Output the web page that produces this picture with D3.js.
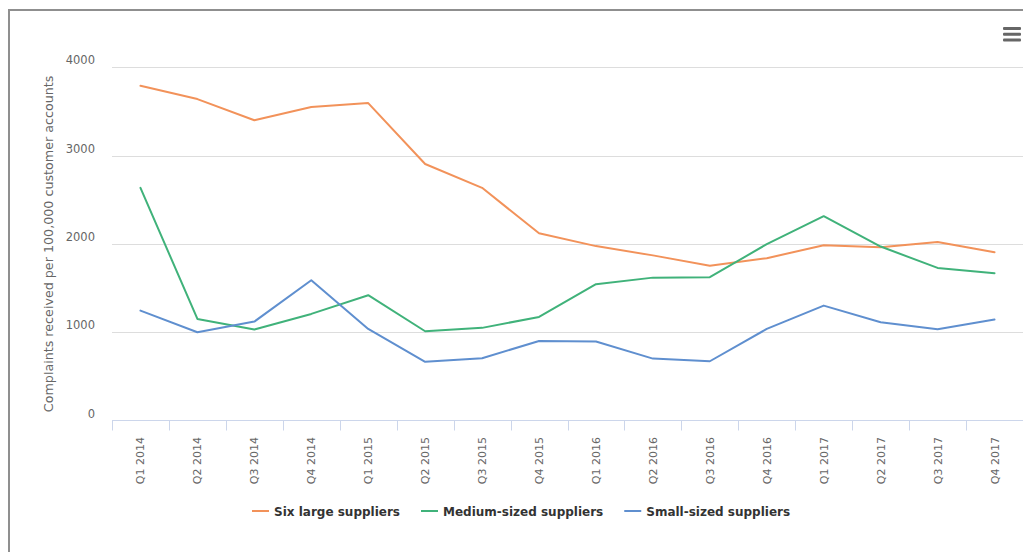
<!DOCTYPE html>
<html>
<head>
<meta charset="utf-8">
<script src="https://cdn.jsdelivr.net/npm/d3@7"></script>
<style>
  html, body { margin: 0; padding: 0; background: #fff; }
  svg { display: block; font-family: "DejaVu Sans", sans-serif; }
</style>
</head>
<body>
<svg id="chart" width="1023" height="552"></svg>
<script>
// Quarterly complaints per 100,000 customer accounts, by supplier size
const quarters = ["Q1 2014", "Q2 2014", "Q3 2014", "Q4 2014",
                  "Q1 2015", "Q2 2015", "Q3 2015", "Q4 2015",
                  "Q1 2016", "Q2 2016", "Q3 2016", "Q4 2016",
                  "Q1 2017", "Q2 2017", "Q3 2017", "Q4 2017"];
const sixLarge    = [3790, 3640, 3400, 3550, 3595, 2905, 2635, 2120, 1975, 1870, 1752, 1838, 1985, 1963, 2022, 1905];
const mediumSized = [2635, 1150, 1030, 1207, 1419, 1011, 1049, 1173, 1544, 1618, 1623, 1997, 2314, 1970, 1728, 1668];
const smallSized  = [1245, 1000, 1120, 1589, 1037, 664, 705, 901, 894, 701, 671, 1037, 1301, 1113, 1034, 1143];
const yTicks = [0, 1000, 2000, 3000, 4000];
const seriesNames = ["Six large suppliers", "Medium-sized suppliers", "Small-sized suppliers"];
const yTitle = "Complaints received per 100,000 customer accounts";

const series = [
  { name: seriesNames[0], values: sixLarge,    color: "#f2925a" },
  { name: seriesNames[1], values: mediumSized, color: "#40b27a" },
  { name: seriesNames[2], values: smallSized,  color: "#5f8fcf" }
];

const svg = d3.select("#chart");
const plot = { left: 112, right: 1023, top: 67.3, bottom: 420.5 };

const x = d3.scaleBand().domain(quarters).range([plot.left, plot.right]).padding(0);
const y = d3.scaleLinear().domain([0, 4000]).range([plot.bottom, plot.top]);

// outer frame
svg.append("path")
  .attr("d", `M9,552V10H1023`)
  .attr("fill", "none")
  .attr("stroke", "#8f8f8f")
  .attr("stroke-width", 2);

// horizontal grid lines
svg.append("g")
  .selectAll("line")
  .data(yTicks.filter(d => d > 0))
  .join("line")
  .attr("x1", plot.left).attr("x2", plot.right)
  .attr("y1", d => Math.round(y(d)) + 0.5).attr("y2", d => Math.round(y(d)) + 0.5)
  .attr("stroke", "#dddddd").attr("stroke-width", 1);

// y tick labels
svg.append("g")
  .selectAll("text")
  .data(yTicks)
  .join("text")
  .attr("x", 95)
  .attr("y", d => y(d) - 3)
  .attr("text-anchor", "end")
  .attr("font-size", 11.5)
  .attr("fill", "#666")
  .text(d => d);

// y axis title
svg.append("text")
  .attr("transform", `translate(52.5,${(plot.top + plot.bottom) / 2 + 0}) rotate(-90)`)
  .attr("text-anchor", "middle")
  .attr("font-size", 12.7)
  .attr("fill", "#666")
  .text(yTitle);

// x axis line and tick marks at category boundaries
const xAxis = svg.append("g");
xAxis.append("line")
  .attr("x1", plot.left).attr("x2", plot.right)
  .attr("y1", plot.bottom).attr("y2", plot.bottom)
  .attr("stroke", "#ccd6eb").attr("stroke-width", 1);
xAxis.selectAll("line.tick")
  .data(quarters)
  .join("line")
  .attr("class", "tick")
  .attr("x1", d => Math.round(x(d)) + 0.5).attr("x2", d => Math.round(x(d)) + 0.5)
  .attr("y1", plot.bottom).attr("y2", plot.bottom + 10)
  .attr("stroke", "#ccd6eb").attr("stroke-width", 1);
xAxis.selectAll("text")
  .data(quarters)
  .join("text")
  .attr("transform", d => `translate(${x(d) + x.bandwidth() / 2 + 4},437) rotate(-90)`)
  .attr("text-anchor", "end")
  .attr("font-size", 11)
  .attr("fill", "#666")
  .text(d => d);

// series lines
const line = d3.line()
  .x((d, i) => x(quarters[i]) + x.bandwidth() / 2)
  .y(d => y(d));

svg.append("g")
  .selectAll("path")
  .data(series)
  .join("path")
  .attr("d", d => line(d.values))
  .attr("fill", "none")
  .attr("stroke", d => d.color)
  .attr("stroke-width", 2)
  .attr("stroke-linejoin", "round")
  .attr("stroke-linecap", "round");

// legend
const legend = svg.append("g");
let lx = 252;
const ly = 511;
series.forEach(s => {
  legend.append("line")
    .attr("x1", lx).attr("x2", lx + 17)
    .attr("y1", ly).attr("y2", ly)
    .attr("stroke", s.color).attr("stroke-width", 2);
  const t = legend.append("text")
    .attr("x", lx + 22)
    .attr("y", ly + 4.5)
    .attr("font-size", 12)
    .attr("font-weight", "bold")
    .attr("fill", "#333")
    .text(s.name);
  lx += 22 + t.node().getComputedTextLength() + 21;
});

// context menu icon
svg.append("g")
  .selectAll("rect")
  .data([0, 1, 2])
  .join("rect")
  .attr("x", 1003).attr("y", d => 27 + d * 5.7)
  .attr("width", 18).attr("height", 3)
  .attr("rx", 1)
  .attr("fill", "#666");
</script>
</body>
</html>
